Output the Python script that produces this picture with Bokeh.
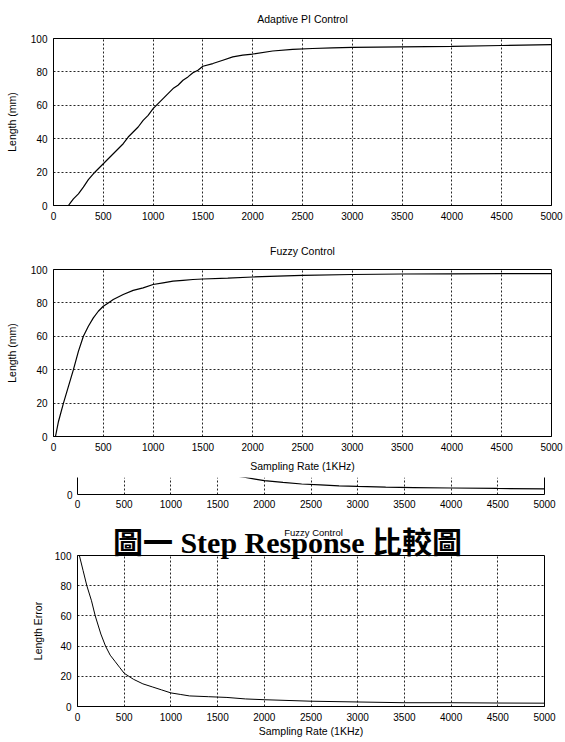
from bokeh.plotting import figure
from bokeh.models import Range1d, FixedTicker, Label, LinearAxis
from bokeh.layouts import column
from bokeh.embed import file_html
from bokeh.resources import INLINE

# ---------------- data ----------------
x_ticks = [0, 500, 1000, 1500, 2000, 2500, 3000, 3500, 4000, 4500, 5000]
y_ticks = [0, 20, 40, 60, 80, 100]

# Adaptive PI Control step response (mm)
x_pi = [150, 175, 200, 250, 300, 350, 400, 450, 500, 550, 600, 650, 700, 750, 800,
        850, 900, 950, 1000, 1050, 1100, 1150, 1200, 1250, 1300, 1350, 1400, 1450,
        1500, 1600, 1700, 1800, 1900, 2000, 2200, 2400, 2600, 2800, 3000, 3500,
        4000, 4500, 5000]
y_pi = [0, 2, 4, 7, 11, 15.5, 19, 22, 25, 28, 31, 34, 37, 41, 44, 47, 51, 54, 58,
        61, 64, 67, 70, 72, 75, 77, 79.5, 81, 83.4, 85, 87, 89, 90, 90.7, 92.5,
        93.5, 94, 94.4, 94.7, 95, 95.3, 95.8, 96.3]

# Fuzzy Control step response (mm)
x_fz = [20, 50, 100, 150, 200, 250, 300, 350, 400, 450, 500, 550, 600, 700, 800,
        900, 1000, 1100, 1200, 1300, 1400, 1500, 1750, 2000, 2250, 2500, 3000,
        3500, 4000, 4500, 5000]
y_fz = [0, 9, 20, 30, 40, 51, 60, 66, 71, 75, 78, 80, 82, 85, 87.5, 89, 91, 92,
        93, 93.5, 94, 94.3, 94.8, 95.5, 96, 96.5, 97, 97.3, 97.4, 97.5, 97.5]

# Adaptive PI length error (only the lower strip is visible)
x_epi = [1700, 1800, 1900, 2000, 2200, 2400, 2600, 2800, 3000, 3300, 3600, 4000,
         4500, 5000]
y_epi = [12, 11, 10, 9, 7.8, 6.8, 6.2, 5.6, 5.2, 4.8, 4.5, 4.2, 3.9, 3.7]

# Fuzzy Control length error
x_efz = [20, 60, 100, 150, 190, 250, 300, 350, 400, 450, 500, 550, 600, 700, 800,
         900, 1000, 1100, 1200, 1400, 1600, 1800, 2000, 2500, 3000, 3500, 4000,
         4500, 5000]
y_efz = [100, 90, 80, 70, 60, 48, 40, 34, 30, 26, 22, 20, 18, 15, 13, 11, 9, 8, 7,
         6.5, 6, 5, 4.5, 3.5, 3, 2.5, 2.5, 2.3, 2.2]

caption_text = "圖一 Step Response 比較圖"
titles = ["Adaptive PI Control", "Fuzzy Control", "Fuzzy Control"]

FONT = "Liberation Sans"
W = 565


def style_axes(p, yt, ylab_standoff=10, xlab=None, xlab_standoff=6, tick_standoff=6):
    for ax in p.xaxis + p.yaxis:
        ax.axis_line_color = "black"
        ax.major_tick_in = 0
        ax.major_tick_out = 0
        ax.minor_tick_line_color = None
        ax.major_label_text_font = FONT
        ax.major_label_text_font_size = "10px"
        ax.major_label_text_color = "black"
        ax.axis_label_text_font = FONT
        ax.axis_label_text_font_size = "10.5px"
        ax.axis_label_text_font_style = "normal"
        ax.axis_label_text_color = "black"
        ax.major_label_standoff = tick_standoff
    p.xaxis.ticker = FixedTicker(ticks=x_ticks)
    p.yaxis.ticker = FixedTicker(ticks=yt)
    p.yaxis.axis_label_standoff = ylab_standoff
    if xlab:
        p.xaxis.axis_label = xlab
        p.xaxis.axis_label_standoff = xlab_standoff
    for g in (p.xgrid, p.ygrid):
        g.grid_line_color = "black"
        g.grid_line_dash = "2 2"
        g.grid_line_width = 1
        g.grid_line_alpha = 0.85
    p.background_fill_color = "white"
    p.border_fill_color = "white"


def make_fig(height, top, bottom, left, frame_w, yr):
    p = figure(width=W, height=height, x_range=Range1d(0, 5000), y_range=Range1d(*yr),
               output_backend="svg", toolbar_location=None,
               min_border_left=left, min_border_right=W - left - frame_w,
               min_border_top=top, min_border_bottom=bottom)
    p.outline_line_color = "black"
    p.outline_line_width = 1
    return p


def add_title(p, text, x, y, size="10.5px"):
    # title text placed in the panel just above the frame
    lab = Label(x=x, y=y, x_units="screen", y_units="screen", text=text,
                text_font=FONT, text_font_size=size, text_color="black",
                text_align="center", text_baseline="middle")
    p.add_layout(lab, "above")
    return lab


# ---- Figure A: Adaptive PI Control ----
pa = make_fig(236, 38, 31, 53, 498, (0, 100))
add_title(pa, titles[0], 249, 20)
style_axes(pa, y_ticks, ylab_standoff=10)
pa.yaxis.axis_label = "Length (mm)"
pa.line(x_pi, y_pi, line_color="black", line_width=1.2)

# ---- Figure B: Fuzzy Control ----
pb = make_fig(241, 33, 41, 53, 498, (0, 100))
add_title(pb, titles[1], 249, 19)
style_axes(pb, y_ticks, ylab_standoff=10, xlab="Sampling Rate (1KHz)", xlab_standoff=6)
pb.yaxis.axis_label = "Length (mm)"
pb.line(x_fz, y_fz, line_color="black", line_width=1.2)

# ---- Figure C: lower strip of the Adaptive PI error plot ----
pc = make_fig(34, 0, 17, 77, 467, (0, 11))
style_axes(pc, [0], tick_standoff=5)
pc.ygrid.visible = False
pc.outline_line_color = None
rax = LinearAxis(ticker=FixedTicker(ticks=[]), major_tick_line_color=None,
                 minor_tick_line_color=None, axis_line_color="black")
pc.add_layout(rax, "right")
pc.line(x_epi, y_epi, line_color="black", line_width=1.2)

# ---- Figure D: Fuzzy Control length error ----
pd_ = make_fig(229, 43, 34, 77, 467, (0, 100))
style_axes(pd_, y_ticks, ylab_standoff=8, xlab="Sampling Rate (1KHz)", xlab_standoff=1)
pd_.yaxis.axis_label = "Length Error"
pd_.line(x_efz, y_efz, line_color="black", line_width=1)

caption = Label(x=210, y=13, x_units="screen", y_units="screen",
                text=caption_text,
                text_font="Liberation Serif, Noto Sans CJK TC",
                text_font_size="30px", text_font_style="bold", text_color="black",
                text_align="center", text_baseline="alphabetic")
pd_.add_layout(caption, "above")
add_title(pd_, titles[2], 236, -9.5, size="9.5px")

layout = column(column(pa, pb, spacing=0), column(pc, pd_, spacing=0), spacing=0)
open("out.html", "w").write(file_html(layout, INLINE))
